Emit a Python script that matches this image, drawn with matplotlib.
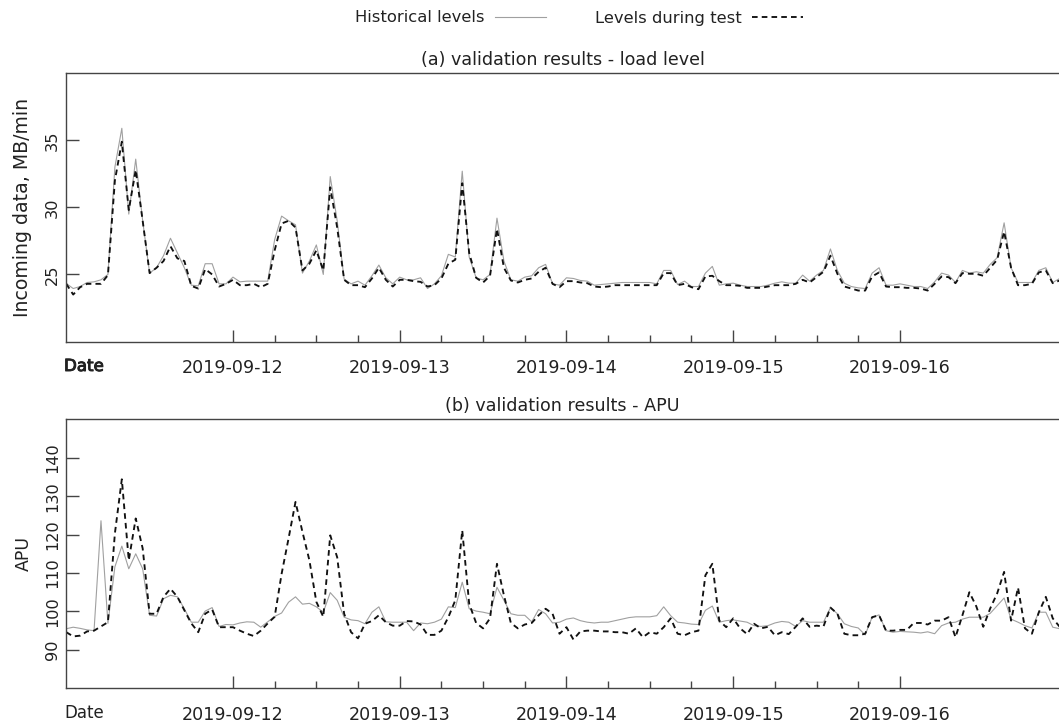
import matplotlib
matplotlib.use("Agg")
import matplotlib.pyplot as plt
import matplotlib.dates as mdates
import matplotlib.patheffects as pe
from matplotlib.ticker import FixedLocator, NullFormatter
import numpy as np
import pandas as pd

start = "2019-09-11 00:00"
n_hours = 144
major_dates = ["2019-09-12", "2019-09-13", "2019-09-14", "2019-09-15", "2019-09-16"]

hist_load = [24.33, 23.95, 24.1, 24.4, 24.45, 24.6, 25.0, 33.0, 35.9, 29.5, 33.6, 29.0,
             25.1, 25.5, 26.4, 27.7, 26.6, 25.5, 24.2, 24.15, 25.8, 25.8, 24.3, 24.3,
             24.8, 24.45, 24.5, 24.5, 24.5, 24.5, 27.6, 29.35, 29.0, 28.7, 25.1, 26.0,
             27.2, 25.0, 32.3, 29.0, 24.65, 24.3, 24.5, 24.2, 24.9, 25.7, 24.75, 24.3,
             24.8, 24.6, 24.6, 24.75, 23.95, 24.3, 24.9, 26.5, 26.3, 32.7, 26.3, 24.75,
             24.6, 25.0, 29.2, 26.0, 24.6, 24.5, 24.8, 24.9, 25.5, 25.75, 24.3, 24.2,
             24.75, 24.7, 24.55, 24.5, 24.2, 24.25, 24.3, 24.35, 24.4, 24.4, 24.4, 24.4,
             24.4, 24.3, 25.3, 25.3, 24.25, 24.5, 24.1, 24.1, 25.1, 25.6, 24.2, 24.3,
             24.35, 24.2, 24.1, 24.1, 24.1, 24.2, 24.35, 24.45, 24.35, 24.35, 24.95, 24.5,
             24.95, 25.3, 26.9, 25.3, 24.35, 24.1, 24.0, 23.95, 25.1, 25.5, 24.2, 24.2,
             24.3, 24.2, 24.1, 24.1, 23.95, 24.45, 25.1, 24.95, 24.4, 25.3, 25.1, 25.2,
             25.1, 25.75, 26.25, 28.85, 25.5, 24.4, 24.4, 24.4, 25.3, 25.5, 24.4, 24.7]

test_load = [24.3, 23.5, 24.05, 24.3, 24.3, 24.3, 24.95, 32.0, 34.9, 29.8, 32.8, 29.0,
             25.1, 25.5, 26.0, 27.1, 26.2, 26.0, 24.15, 23.95, 25.4, 25.0, 24.1, 24.3,
             24.6, 24.2, 24.2, 24.3, 24.05, 24.3, 26.8, 28.8, 29.0, 28.5, 25.3, 25.8,
             26.8, 25.3, 31.5, 28.5, 24.6, 24.2, 24.2, 24.05, 24.7, 25.5, 24.6, 24.1,
             24.6, 24.6, 24.5, 24.45, 24.1, 24.2, 24.7, 25.8, 26.1, 31.8, 26.6, 24.75,
             24.4, 24.9, 28.4, 25.5, 24.55, 24.4, 24.6, 24.7, 25.2, 25.5, 24.3, 24.05,
             24.5, 24.5, 24.4, 24.35, 24.1, 24.05, 24.1, 24.2, 24.2, 24.2, 24.2, 24.2,
             24.2, 24.2, 25.1, 25.1, 24.2, 24.3, 24.05, 23.9, 24.85, 24.9, 24.5, 24.2,
             24.2, 24.15, 24.0, 24.0, 24.0, 24.1, 24.2, 24.2, 24.2, 24.3, 24.6, 24.4,
             24.8, 25.2, 26.4, 25.05, 24.1, 23.95, 23.8, 23.8, 24.85, 25.15, 24.1, 24.05,
             24.05, 24.0, 24.0, 23.95, 23.8, 24.3, 24.85, 24.8, 24.35, 25.1, 25.05, 25.05,
             24.9, 25.5, 26.1, 28.2, 25.5, 24.2, 24.2, 24.3, 25.15, 25.3, 24.35, 24.55]

hist_apu = [95.5, 95.9, 95.6, 95.2, 95.0, 123.6, 96.9, 111.6, 117.0, 111.1, 115.0, 111.1,
            99.0, 98.8, 103.3, 104.2, 103.8, 100.7, 97.2, 97.2, 100.1, 101.0, 96.1, 96.6,
            96.5, 97.0, 97.3, 97.2, 95.9, 97.3, 98.7, 99.6, 102.4, 103.8, 101.9, 102.1,
            101.2, 99.8, 104.9, 102.9, 98.5, 97.8, 97.6, 96.8, 99.8, 101.2, 97.3, 97.2,
            97.2, 97.2, 95.0, 97.0, 96.8, 97.2, 98.0, 101.2, 101.0, 107.6, 100.7, 100.1,
            99.8, 99.4, 106.3, 102.9, 99.4, 99.0, 99.0, 97.3, 100.5, 99.4, 97.0, 97.2,
            98.0, 98.3, 97.6, 97.2, 97.0, 97.2, 97.2, 97.6, 98.0, 98.4, 98.6, 98.6,
            98.6, 98.9, 101.2, 98.9, 97.2, 97.0, 96.7, 96.6, 100.3, 101.4, 97.2, 97.6,
            97.8, 97.5, 97.2, 96.3, 96.1, 96.3, 97.0, 97.4, 97.2, 96.1, 97.6, 97.2,
            97.2, 97.2, 101.0, 99.4, 96.8, 96.1, 95.7, 93.9, 98.5, 99.1, 95.0, 94.6,
            94.8, 94.7, 94.6, 94.4, 94.7, 94.2, 96.3, 97.0, 97.2, 98.0, 98.5, 98.5,
            98.5, 99.5, 101.5, 103.5, 98.0, 97.2, 96.3, 95.7, 99.8, 99.8, 95.9, 95.5]

test_apu = [94.6, 93.5, 93.7, 94.8, 95.0, 96.1, 97.2, 120.3, 134.4, 113.3, 124.2, 116.4,
            99.4, 99.4, 103.8, 105.9, 103.8, 100.3, 96.9, 94.6, 99.4, 100.5, 95.9, 95.9,
            95.9, 95.0, 94.2, 93.6, 95.0, 96.9, 98.6, 109.8, 119.0, 128.5, 120.7, 113.3,
            102.5, 98.6, 119.8, 114.1, 99.4, 94.6, 93.0, 96.8, 97.5, 99.0, 97.2, 96.3,
            96.3, 97.5, 97.4, 96.6, 93.9, 93.9, 95.0, 98.5, 102.9, 121.1, 102.0, 97.0,
            95.6, 98.2, 112.4, 104.2, 97.0, 95.6, 96.6, 97.0, 99.0, 100.7, 99.4, 94.2,
            95.9, 92.7, 94.8, 95.0, 95.0, 94.8, 94.8, 94.6, 94.6, 94.2, 95.6, 93.3,
            94.6, 94.2, 95.9, 98.2, 94.2, 93.8, 94.6, 95.0, 109.4, 112.4, 97.6, 95.9,
            98.2, 95.6, 94.1, 96.8, 95.6, 96.0, 93.8, 94.6, 94.1, 96.0, 98.2, 96.0,
            96.3, 96.1, 101.0, 99.4, 94.2, 93.8, 93.8, 94.2, 98.5, 99.0, 95.0, 95.0,
            95.2, 95.2, 97.0, 97.0, 96.6, 97.6, 97.6, 98.5, 93.3, 99.0, 105.0, 101.3,
            96.0, 100.8, 104.7, 110.3, 97.6, 106.2, 95.6, 94.2, 99.8, 103.8, 98.2, 96.0]

load_ticks = [25, 30, 35]
apu_ticks = [90, 100, 110, 120, 130, 140]

TXT = "#222222"
SPINE = "#444444"
plt.rcParams["font.family"] = ["DejaVu Sans"]

times = pd.date_range(start, periods=n_hours, freq="h")
t0 = mdates.date2num(times[0].to_pydatetime())
xmax = t0 + 142.9 / 24.0

majors = [mdates.date2num(pd.Timestamp(d).to_pydatetime()) for d in major_dates]
minors = []
for i in range(len(majors) - 1):
    for k in (1, 2, 3):
        minors.append(majors[i] + k * 0.25)

fig = plt.figure(figsize=(10.59, 7.24), dpi=100)
ax1 = fig.add_axes([66.25 / 1059, (724 - 341.5) / 724, 1 - 66.25 / 1059, (341.5 - 73.3) / 724])
ax2 = fig.add_axes([66.25 / 1059, (724 - 688.3) / 724, 1 - 66.25 / 1059, (688.3 - 419.3) / 724])

XFS = 12.6
YFS = 11.6

def style(ax, yticks, ylim, ylabel, ylabel_fs, title):
    ax.set_xlim(t0, xmax)
    ax.set_ylim(*ylim)
    ax.spines["right"].set_visible(False)
    for s in ("left", "bottom", "top"):
        ax.spines[s].set_color(SPINE)
        ax.spines[s].set_linewidth(1.0)
    ax.xaxis.set_major_locator(FixedLocator(majors))
    ax.xaxis.set_minor_locator(FixedLocator(minors))
    ax.xaxis.set_major_formatter(mdates.DateFormatter("%Y-%m-%d"))
    ax.xaxis.set_minor_formatter(NullFormatter())
    ax.set_yticks(yticks)
    ax.tick_params(axis="x", which="major", direction="in", length=9, width=1,
                   color=SPINE, pad=12.5, labelsize=XFS, labelcolor=TXT)
    ax.tick_params(axis="x", which="minor", direction="in", length=5, width=1, color=SPINE)
    ax.tick_params(axis="y", direction="in", length=9, width=1, color=SPINE,
                   pad=4.5, labelsize=YFS, labelcolor=TXT, labelrotation=90)
    for lab in ax.get_yticklabels():
        lab.set_verticalalignment("center")
    ax.set_ylabel(ylabel, fontsize=ylabel_fs, color=TXT, labelpad=9)
    ax.set_title(title, fontsize=12.6, color=TXT, pad=6)

style(ax1, load_ticks, (20, 40), "Incoming data, MB/min", 13.6, "(a) validation results - load level")
style(ax2, apu_ticks, (80, 150), "APU", 12.5, "(b) validation results - APU")

for ax, h, t in ((ax1, hist_load, test_load), (ax2, hist_apu, test_apu)):
    ax.plot(times, h, color="#a0a0a0", lw=0.8, label="Historical levels")
    ax.plot(times, t, color="#111111", lw=1.35, dashes=(3.0, 2.2), label="Levels during test")
    ax.set_xlim(t0, xmax)

handles, labels = ax1.get_legend_handles_labels()
fig.legend(handles, labels, loc="center", bbox_to_anchor=(579 / 1059, 1 - 18 / 724),
           ncol=2, frameon=False, markerfirst=False, fontsize=11.8,
           handlelength=3.1, columnspacing=3.0, handletextpad=0.65, labelcolor=TXT)

fig.text(64 / 1059, 1 - 366 / 724, "Date", fontsize=12, color=TXT, ha="left", va="center",
         path_effects=[pe.withStroke(linewidth=0.7, foreground=TXT)])
fig.text(64 / 1059, 1 - 713 / 724, "Date", fontsize=12, color=TXT, ha="left", va="center")

fig.savefig("out.png", dpi=100)
